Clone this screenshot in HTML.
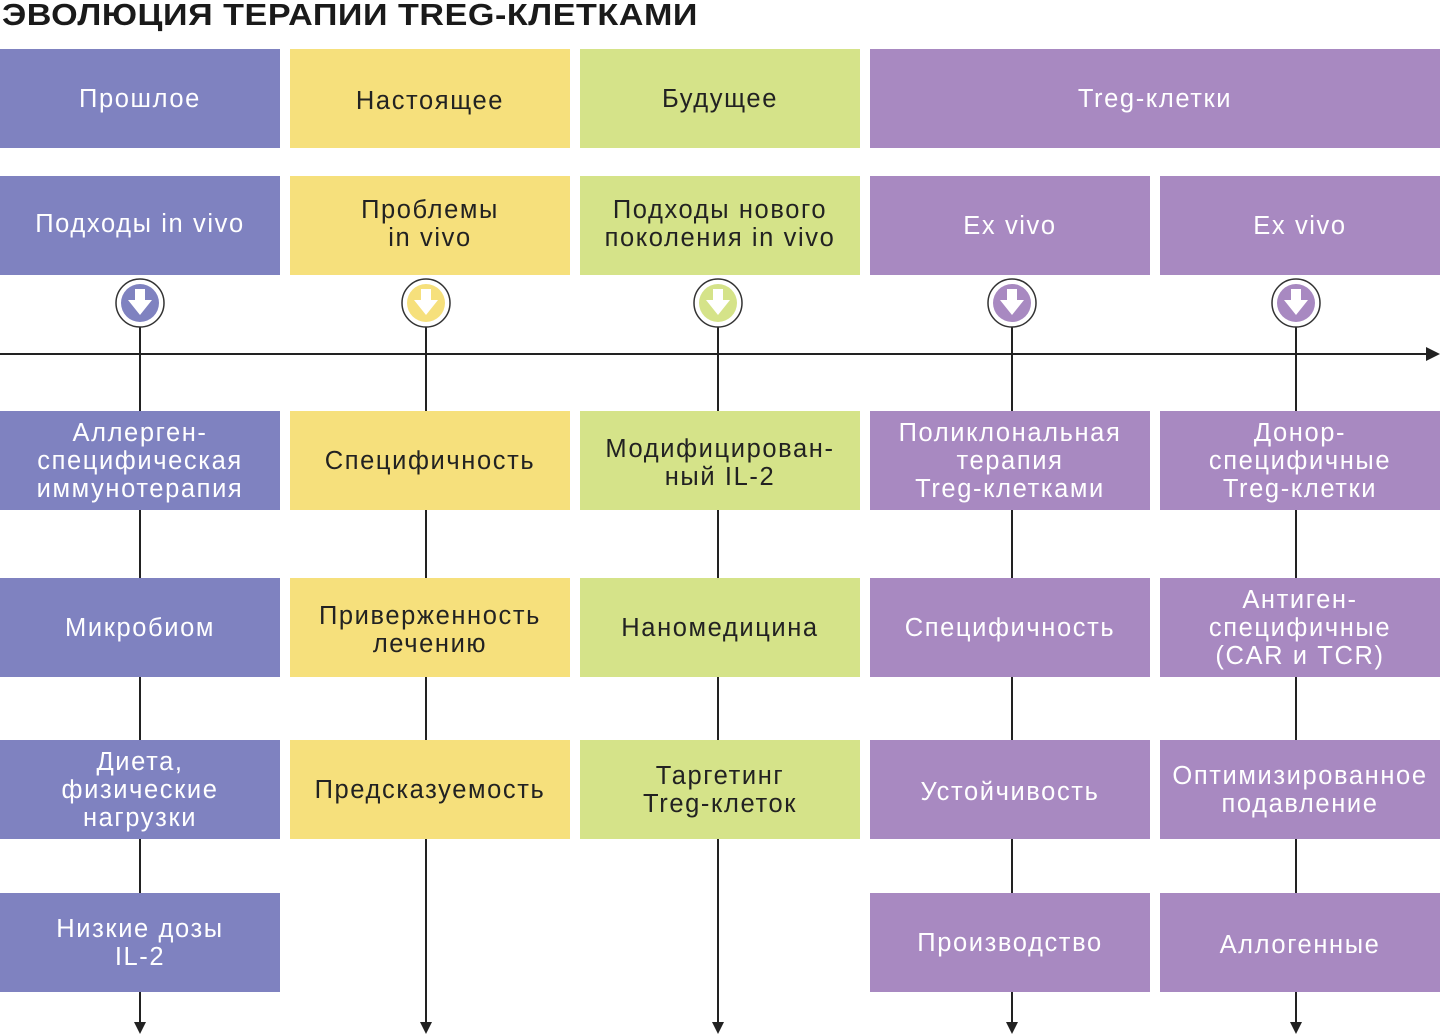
<!DOCTYPE html>
<html><head><meta charset="utf-8"><style>
body{margin:0;width:1440px;height:1034px;background:#fff;position:relative;overflow:hidden;font-family:"Liberation Sans","DejaVu Sans",sans-serif}
.t{position:absolute;left:2px;top:-3px;font-size:31px;font-weight:bold;letter-spacing:0.5px;color:#1a1a1a;transform:scaleX(1.1);transform-origin:left;white-space:nowrap}
.b{position:absolute;display:flex;align-items:center;justify-content:center;text-align:center;font-size:25.5px;line-height:28px;letter-spacing:1.6px;height:99px;width:280px}
.b span{position:relative}
.d{top:2px}.u{top:-2px}
.B{background:#7f82c0;color:#fff}.Y{background:#f6e07c;color:#222}.G{background:#d5e389;color:#222}.P{background:#a889c1;color:#fff}
svg{position:absolute;left:0;top:0}
</style></head><body>
<div class="t">ЭВОЛЮЦИЯ ТЕРАПИИ TREG-КЛЕТКАМИ</div>
<svg width="1440" height="1034">
<g stroke="#222" stroke-width="2">
<line x1="0" y1="354" x2="1430" y2="354"/>
<line x1="140" y1="327" x2="140" y2="1024"/>
<line x1="426" y1="327" x2="426" y2="1024"/>
<line x1="718" y1="327" x2="718" y2="1024"/>
<line x1="1012" y1="327" x2="1012" y2="1024"/>
<line x1="1296" y1="327" x2="1296" y2="1024"/>
</g>
<g fill="#222">
<polygon points="1426,347 1440,354 1426,361"/>
<polygon points="134,1022 146,1022 140,1034"/>
<polygon points="420,1022 432,1022 426,1034"/>
<polygon points="712,1022 724,1022 718,1034"/>
<polygon points="1006,1022 1018,1022 1012,1034"/>
<polygon points="1290,1022 1302,1022 1296,1034"/>
</g>
<g>
<circle cx="140" cy="303" r="24" fill="#fff" stroke="#333" stroke-width="1.5"/><circle cx="140" cy="303" r="19" fill="#7f82c0"/>
<circle cx="426" cy="303" r="24" fill="#fff" stroke="#333" stroke-width="1.5"/><circle cx="426" cy="303" r="19" fill="#f6e07c"/>
<circle cx="718" cy="303" r="24" fill="#fff" stroke="#333" stroke-width="1.5"/><circle cx="718" cy="303" r="19" fill="#d5e389"/>
<circle cx="1012" cy="303" r="24" fill="#fff" stroke="#333" stroke-width="1.5"/><circle cx="1012" cy="303" r="19" fill="#a889c1"/>
<circle cx="1296" cy="303" r="24" fill="#fff" stroke="#333" stroke-width="1.5"/><circle cx="1296" cy="303" r="19" fill="#a889c1"/>
</g>
<g fill="#fff">
<path d="M135,289h10v11h7l-12,15l-12,-15h7z"/>
<path d="M421,289h10v11h7l-12,15l-12,-15h7z"/>
<path d="M713,289h10v11h7l-12,15l-12,-15h7z"/>
<path d="M1007,289h10v11h7l-12,15l-12,-15h7z"/>
<path d="M1291,289h10v11h7l-12,15l-12,-15h7z"/>
</g>
</svg>
<div class="b B" style="left:0;top:49px"><span>Прошлое</span></div>
<div class="b Y" style="left:290px;top:49px"><span class="d">Настоящее</span></div>
<div class="b G" style="left:580px;top:49px"><span>Будущее</span></div>
<div class="b P" style="left:870px;top:49px;width:570px"><span>Treg-клетки</span></div>

<div class="b B" style="left:0;top:176px"><span class="u">Подходы in vivo</span></div>
<div class="b Y" style="left:290px;top:176px"><span class="u">Проблемы<br>in vivo</span></div>
<div class="b G" style="left:580px;top:176px"><span class="u">Подходы нового<br>поколения in vivo</span></div>
<div class="b P" style="left:870px;top:176px"><span>Ex vivo</span></div>
<div class="b P" style="left:1160px;top:176px"><span>Ex vivo</span></div>

<div class="b B" style="left:0;top:411px"><span>Аллерген-<br>специфическая<br>иммунотерапия</span></div>
<div class="b Y" style="left:290px;top:411px"><span>Специфичность</span></div>
<div class="b G" style="left:580px;top:411px"><span class="d">Модифицирован-<br>ный IL-2</span></div>
<div class="b P" style="left:870px;top:411px"><span>Поликлональная<br>терапия<br>Treg-клетками</span></div>
<div class="b P" style="left:1160px;top:411px"><span>Донор-<br>специфичные<br>Treg-клетки</span></div>

<div class="b B" style="left:0;top:578px"><span>Микробиом</span></div>
<div class="b Y" style="left:290px;top:578px"><span class="d">Приверженность<br>лечению</span></div>
<div class="b G" style="left:580px;top:578px"><span>Наномедицина</span></div>
<div class="b P" style="left:870px;top:578px"><span>Специфичность</span></div>
<div class="b P" style="left:1160px;top:578px"><span>Антиген-<br>специфичные<br>(CAR и TCR)</span></div>

<div class="b B" style="left:0;top:740px"><span>Диета,<br>физические<br>нагрузки</span></div>
<div class="b Y" style="left:290px;top:740px"><span>Предсказуемость</span></div>
<div class="b G" style="left:580px;top:740px"><span>Таргетинг<br>Treg-клеток</span></div>
<div class="b P" style="left:870px;top:740px"><span class="d">Устойчивость</span></div>
<div class="b P" style="left:1160px;top:740px"><span>Оптимизированное<br>подавление</span></div>

<div class="b B" style="left:0;top:893px"><span>Низкие дозы<br>IL-2</span></div>
<div class="b P" style="left:870px;top:893px"><span>Производство</span></div>
<div class="b P" style="left:1160px;top:893px"><span class="d">Аллогенные</span></div>
</body></html>
